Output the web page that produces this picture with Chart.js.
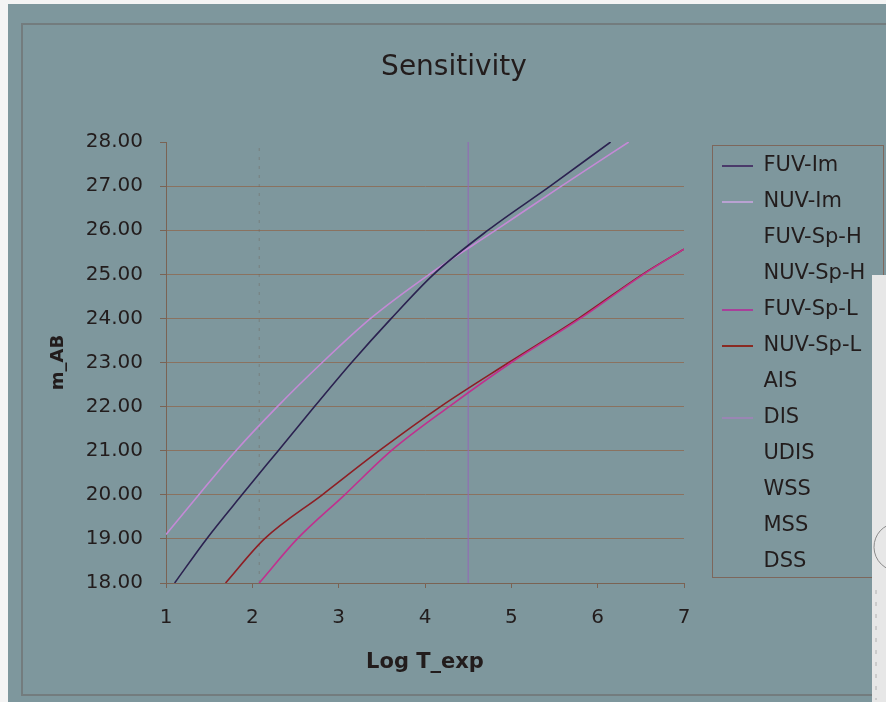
<!DOCTYPE html>
<html>
<head>
<meta charset="utf-8">
<title>Sensitivity</title>
<script src="https://cdn.jsdelivr.net/npm/chart.js@4.4.1/dist/chart.umd.min.js"></script>
<style>
  html, body { margin: 0; padding: 0; background: #7e979d; }
  #wrap { width: 886px; height: 702px; }
</style>
</head>
<body>
<div id="wrap"><canvas id="c" width="886" height="702"></canvas></div>
<script>
// ---- data ----
const seriesNames = ['FUV-Im', 'NUV-Im', 'FUV-Sp-H', 'NUV-Sp-H', 'FUV-Sp-L', 'NUV-Sp-L', 'AIS', 'DIS', 'UDIS', 'WSS', 'MSS', 'DSS'];

const fuvImLogT = [1.10, 1.47, 1.88, 2.30, 2.72, 3.15, 3.61, 4.10, 4.73, 5.45, 6.15];
const fuvImMag  = [18, 19, 20, 21, 22, 23, 24, 25, 26, 27, 28];

const nuvImLogT = [1.00, 1.38, 1.81, 2.29, 2.81, 3.37, 4.05, 4.82, 5.58, 6.36];
const nuvImMag  = [19.1, 20, 21, 22, 23, 24, 25, 26, 27, 28];

const fuvSpLLogT = [2.08, 2.52, 3.07, 3.61, 4.28, 5.00, 5.80, 6.53, 7.00];
const fuvSpLMag  = [18, 19, 20, 21, 22, 23, 24, 25, 25.57];

const nuvSpLLogT = [1.69, 2.14, 2.81, 3.47, 4.18, 4.97, 5.78, 6.52, 7.00];
const nuvSpLMag  = [18, 19, 20, 21, 22, 23, 24, 25, 25.57];

const aisLogT = [2.08, 2.08];
const aisMag  = [18, 28];

const disLogT = [4.5, 4.5];
const disMag  = [18, 28];

const xTicks = [1, 2, 3, 4, 5, 6, 7];
const yTicks = [18, 19, 20, 21, 22, 23, 24, 25, 26, 27, 28];

// ---- styling ----
const TXT = '#221c1c';
const GRID = '#8a7260';
const AXIS = '#7a6354';
const FONT = 'DejaVu Sans';

function pts(xs, ys) { return xs.map((x, i) => ({ x: x, y: ys[i] })); }

const datasets = [
  { label: seriesNames[0], data: pts(fuvImLogT, fuvImMag), borderColor: '#2b2250', legendColor: '#4a3a6a', cubicInterpolationMode: 'monotone' },
  { label: seriesNames[1], data: pts(nuvImLogT, nuvImMag), borderColor: '#c48ad6', legendColor: '#b9a2d2', cubicInterpolationMode: 'monotone' },
  { label: seriesNames[2], data: [], borderColor: 'rgba(0,0,0,0)' },
  { label: seriesNames[3], data: [], borderColor: 'rgba(0,0,0,0)' },
  { label: seriesNames[4], data: pts(fuvSpLLogT, fuvSpLMag), borderColor: '#c0308e', legendColor: '#a8409a', cubicInterpolationMode: 'monotone' },
  { label: seriesNames[5], data: pts(nuvSpLLogT, nuvSpLMag), borderColor: '#8e1e24', legendColor: '#8a2a22', cubicInterpolationMode: 'monotone' },
  { label: seriesNames[6], data: pts(aisLogT, aisMag), borderColor: 'rgba(110,100,90,0.45)', borderDash: [3, 6], borderWidth: 1 },
  { label: seriesNames[7], data: pts(disLogT, disMag), borderColor: '#9468b8', legendColor: '#9a86b4', borderWidth: 1 },
  { label: seriesNames[8], data: [], borderColor: 'rgba(0,0,0,0)' },
  { label: seriesNames[9], data: [], borderColor: 'rgba(0,0,0,0)' },
  { label: seriesNames[10], data: [], borderColor: 'rgba(0,0,0,0)' },
  { label: seriesNames[11], data: [], borderColor: 'rgba(0,0,0,0)' }
].map(d => Object.assign({ borderWidth: 1.6, pointRadius: 0, fill: false, xAxisID: 'x', yAxisID: 'y' }, d));

const decor = {
  id: 'decor',
  beforeDraw(chart) {
    const ctx = chart.ctx;
    ctx.save();
    ctx.fillStyle = '#7e979d';
    ctx.fillRect(0, 0, 886, 702);
    ctx.fillStyle = '#f4f4f4';
    ctx.fillRect(0, 0, 8, 702);
    ctx.fillRect(0, 0, 886, 4);
    ctx.strokeStyle = '#737c7e';
    ctx.lineWidth = 2;
    ctx.beginPath();
    ctx.moveTo(890, 24);
    ctx.lineTo(22, 24);
    ctx.lineTo(22, 695);
    ctx.lineTo(890, 695);
    ctx.stroke();
    ctx.restore();
  },
  afterLayout(chart) {
    const lg = chart.legend;
    if (lg) {
      lg.left = 707;
      lg.right = 886;
      lg.top = 140.5;
    }
  },
  afterDraw(chart) {
    const ctx = chart.ctx;
    ctx.save();
    ctx.strokeStyle = '#7d675c';
    ctx.lineWidth = 1;
    ctx.strokeRect(712.5, 145.5, 171, 432);
    ctx.fillStyle = '#e7e7e7';
    ctx.fillRect(872, 275, 14, 427);
    ctx.strokeStyle = '#8a8a8a';
    ctx.beginPath();
    ctx.arc(898, 547, 24, Math.PI * 0.62, Math.PI * 1.35);
    ctx.stroke();
    ctx.strokeStyle = '#b0b0b0';
    ctx.setLineDash([4, 8]);
    ctx.beginPath();
    ctx.moveTo(876, 590);
    ctx.lineTo(876, 700);
    ctx.stroke();
    ctx.restore();
  }
};

new Chart(document.getElementById('c'), {
  type: 'line',
  data: { datasets: datasets },
  plugins: [decor],
  options: {
    responsive: false,
    animation: false,
    devicePixelRatio: 1,
    layout: { padding: { top: 24, left: 22, right: 0, bottom: 6 } },
    plugins: {
      title: {
        display: true,
        text: 'Sensitivity',
        color: TXT,
        font: { family: FONT, size: 28, weight: 'normal' },
        padding: { top: 27.2, bottom: 57.2 }
      },
      legend: {
        display: true,
        position: 'right',
        align: 'start',
        fullSize: true,
        labels: {
          boxWidth: 31,
          boxHeight: 2,
          padding: 15,
          color: TXT,
          font: { family: FONT, size: 21 },
          generateLabels(chart) {
            return chart.data.datasets.map((ds, i) => ({
              text: ds.label,
              fillStyle: ds.legendColor || 'rgba(0,0,0,0)',
              strokeStyle: 'rgba(0,0,0,0)',
              lineWidth: 0,
              hidden: false,
              datasetIndex: i,
              fontColor: TXT
            }));
          }
        }
      },
      tooltip: { enabled: false }
    },
    scales: {
      x: {
        type: 'linear',
        position: 'bottom',
        min: xTicks[0],
        max: xTicks[xTicks.length - 1],
        afterBuildTicks(s) { s.ticks = xTicks.map(v => ({ value: v })); },
        ticks: { color: TXT, font: { family: FONT, size: 20 }, padding: 18, callback: v => String(v) },
        grid: { drawOnChartArea: false, drawTicks: true, tickLength: 5, tickColor: AXIS, color: AXIS },
        border: { display: true, color: AXIS, width: 1 },
        title: { display: true, text: 'Log T_exp', color: TXT, font: { family: FONT, size: 21, weight: 'bold' }, padding: { top: 0, bottom: 20.4 } },
        afterFit(s) { s.height = 113; }
      },
      y: {
        type: 'linear',
        position: 'left',
        min: yTicks[0],
        max: yTicks[yTicks.length - 1],
        afterBuildTicks(s) { s.ticks = yTicks.map(v => ({ value: v })); },
        ticks: { color: TXT, font: { family: FONT, size: 20 }, padding: 17, callback: v => Number(v).toFixed(2) },
        grid: {
          color: c => (c.tick && c.tick.value === 28) ? 'rgba(0,0,0,0)' : GRID,
          tickColor: AXIS,
          tickLength: 6,
          lineWidth: 1
        },
        border: { display: true, color: AXIS, width: 1 },
        title: { display: true, text: 'm_AB', color: TXT, font: { family: FONT, size: 18, weight: 'bold' }, padding: { top: 25.2, bottom: 0 } },
        afterFit(s) { s.width = 144; }
      },
      gap: {
        type: 'linear',
        position: 'right',
        display: true,
        grid: { display: false },
        border: { display: false },
        ticks: { display: false },
        afterFit(s) { s.width = Math.max(0, 886 - s.chart.legend.width - 684); }
      }
    }
  }
});
</script>
</body>
</html>
